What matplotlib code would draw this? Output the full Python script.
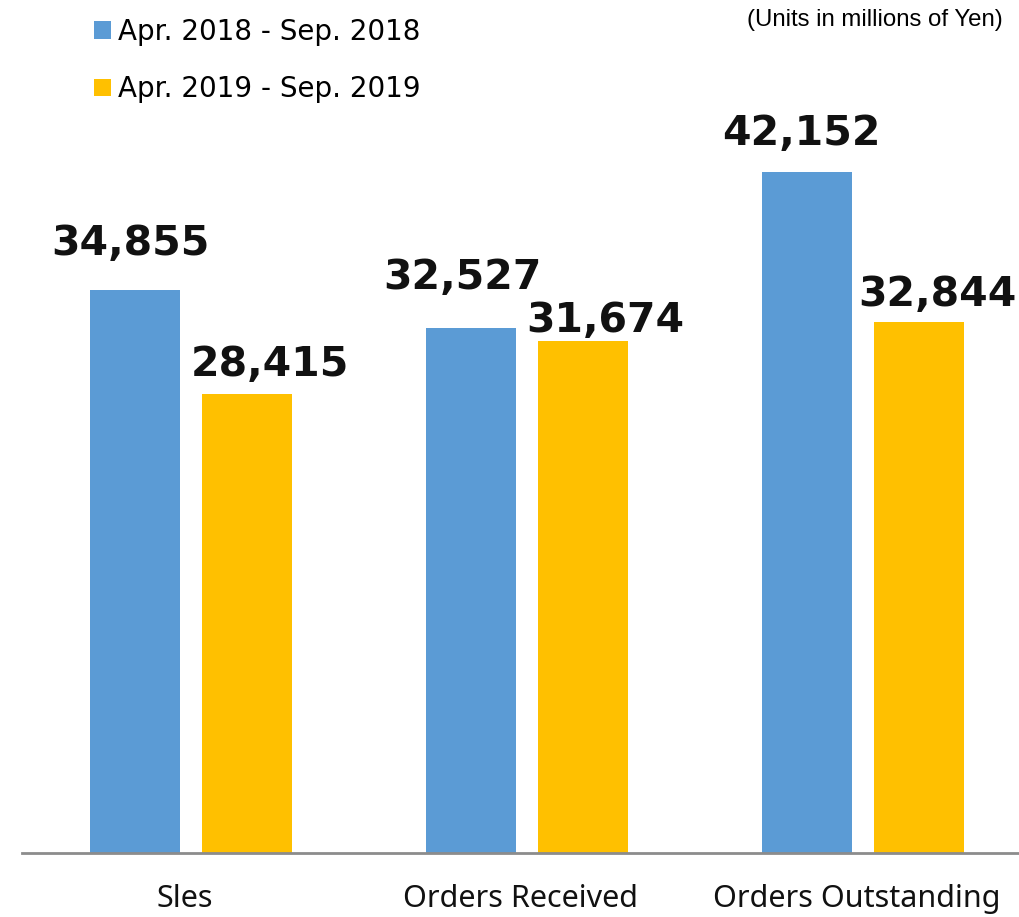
import numpy as np
import matplotlib
matplotlib.use('Agg')
import matplotlib.pyplot as plt

categories = ['Sles', 'Orders Received', 'Orders Outstanding']
series_names = ['Apr. 2018 - Sep. 2018', 'Apr. 2019 - Sep. 2019']
values_2018 = [34855, 32527, 42152]
values_2019 = [28415, 31674, 32844]
colors = ['#5B9BD5', '#FFC000']

# label offsets in pixels (dx, dy) relative to bar top centre
offs_2018 = [(-5, 35), (-9, 39), (-6, 27)]
offs_2019 = [(23, 18), (22, 9), (18, 16)]

fig = plt.figure(figsize=(10.2, 9.17), dpi=100)
ax = fig.add_axes([22 / 1020, 64 / 917, 998 / 1020, 853 / 917])

x = np.arange(len(categories))
w = 0.268
d = 0.1667
b1 = ax.bar(x - d, values_2018, w, color=colors[0], label=series_names[0])
b2 = ax.bar(x + d, values_2019, w, color=colors[1], label=series_names[1])

px = 72 / 100
for bars, vals, offs in [(b1, values_2018, offs_2018), (b2, values_2019, offs_2019)]:
    for r, v, (dx, dy) in zip(bars, vals, offs):
        ax.annotate(f'{v:,}', (r.get_x() + r.get_width() / 2, v),
                    xytext=(dx * px, dy * px), textcoords='offset points',
                    ha='center', va='baseline', fontsize=29.5, fontweight='bold',
                    family='DejaVu Sans', color='#111111')

ax.set_xlim(-0.503, 2.467)
ax.set_ylim(0, 52800)
for s in ['top', 'right', 'left']:
    ax.spines[s].set_visible(False)
ax.spines['bottom'].set_color('#8c8c8c')
ax.spines['bottom'].set_linewidth(2)
ax.set_yticks([])
ax.set_xticks(x - 0.02)
ax.set_xticklabels(categories, fontsize=22, family='Noto Sans', color='#111111')
ax.tick_params(axis='x', length=0, pad=22)

fig.legend(handles=[b1, b2], loc='upper left', bbox_to_anchor=(69 / 1020, 1 + 7 / 917),
           frameon=False, handlelength=0.6, handleheight=0.6,
           handletextpad=0.25, labelspacing=1.05, prop={'family': 'DejaVu Sans', 'size': 20})

fig.text(1003 / 1020, 1 - 20 / 917, '(Units in millions of Yen)', ha='right', va='center',
         fontsize=17.3, family='Liberation Sans')

fig.savefig('out.png', dpi=100)
